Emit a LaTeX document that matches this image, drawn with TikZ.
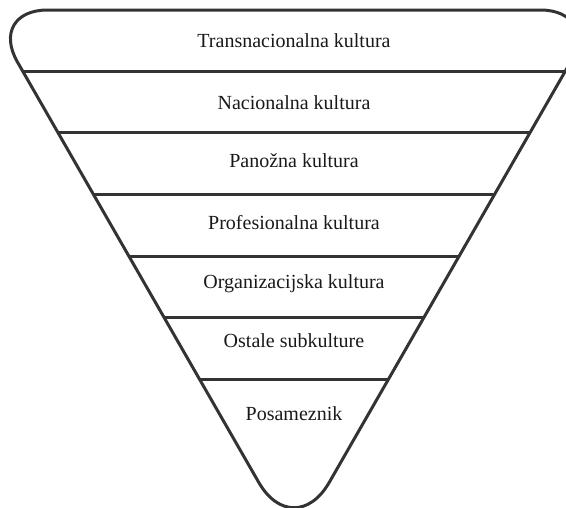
\documentclass[tikz,border=0pt]{standalone}
\usepackage{fontspec}
\setmainfont{Liberation Serif}
\usetikzlibrary{calc}
\begin{document}
\begin{tikzpicture}[x=1pt,y=-1pt,
  outline/.style={draw=black!80,line width=3pt,line join=round},
  divider/.style={draw=black!80,line width=3pt},
  lbl/.style={anchor=base,inner sep=0pt,text=black!90,font=\fontsize{20}{24}\selectfont}]
\useasboundingbox (0,0) rectangle (566,507);
\coordinate (TL) at (-12.4,10);
\coordinate (TR) at (600.4,10);
\coordinate (B) at (294,543.8);
\coordinate (TM) at (294,10);
\coordinate (RM) at ($(TR)!0.5!(B)$);
\coordinate (LM) at ($(TL)!0.5!(B)$);
\draw[outline,rounded corners=60pt] (TM) -- (TR) -- (RM) [rounded corners=71pt] -- (B) -- (LM) [rounded corners=60pt] -- (TL) -- cycle;
\foreach \i/\t in {1/0.1152,2/0.2304,3/0.3456,4/0.4609,5/0.5761,6/0.6913}{
  \coordinate (L\i) at ($(TL)!\t!(B)$);
  \coordinate (R\i) at ($(TR)!\t!(B)$);
  \draw[divider] (L\i) -- (R\i);
}
\node[lbl] (t1) at (294,47) {Transnacionalna kultura};
\node[lbl] (t2) at (294,109) {Nacionalna kultura};
\node[lbl] (t3) at (294,167) {Panožna kultura};
\node[lbl] (t4) at (294,229) {Profesionalna kultura};
\node[lbl] (t5) at (294,288) {Organizacijska kultura};
\node[lbl] (t6) at (294,347) {Ostale subkulture};
\node[lbl] (t7) at (294,420) {Posameznik};
\end{tikzpicture}
\end{document}
